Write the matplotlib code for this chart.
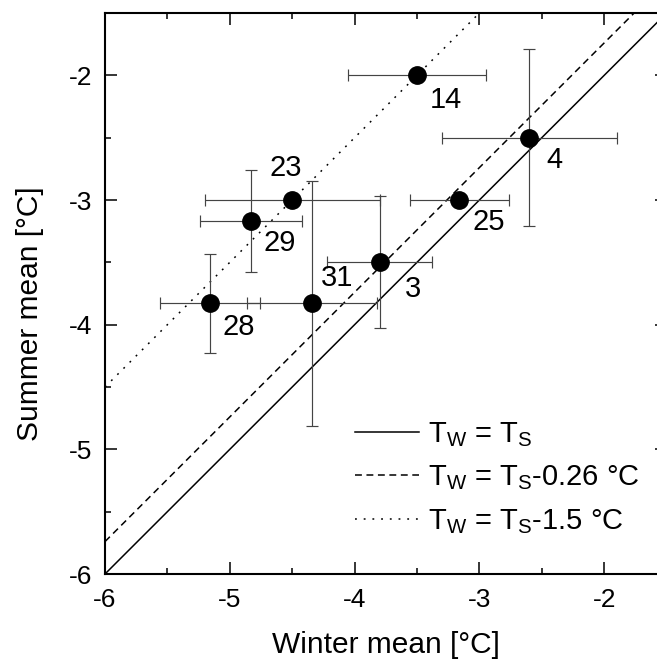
import matplotlib
matplotlib.use('Agg')
import matplotlib.pyplot as plt
import numpy as np

plt.rcParams['font.family'] = ['Liberation Sans', 'DejaVu Sans']
plt.rcParams['mathtext.fontset'] = 'custom'
plt.rcParams['mathtext.rm'] = 'Liberation Sans'
plt.rcParams['mathtext.it'] = 'Liberation Sans:italic'
plt.rcParams['axes.unicode_minus'] = False

# sites: winter mean, summer mean and their errors
sites = ['14', '4', '25', '23', '29', '3', '28', '31']
winter = [-3.50, -2.60, -3.16, -4.50, -4.83, -3.80, -5.16, -4.34]
summer = [-2.00, -2.50, -3.00, -3.00, -3.17, -3.50, -3.83, -3.83]
winter_err = [0.55, 0.70, 0.40, 0.70, 0.41, 0.42, 0.40, 0.52]
summer_err = [0.00, 0.71, 0.00, 0.00, 0.41, 0.53, 0.40, 0.98]
# label offsets (points)
label_dx = [21, 18, 21, -5, 21, 24, 21, 18]
label_dy = [-18, -16, -16, 23, -16, -19, -17, 18]

offsets = [0.0, 0.26, 1.5]
line_labels = [r'T$_\mathrm{W}$ = T$_\mathrm{S}$',
               r'T$_\mathrm{W}$ = T$_\mathrm{S}$-0.26 °C',
               r'T$_\mathrm{W}$ = T$_\mathrm{S}$-1.5 °C']
line_styles = ['-', (0, (4.5, 3)), (0, (1.2, 4.5))]

fig = plt.figure(figsize=(6.57, 6.59), dpi=100)
ax = fig.add_axes([105 / 657, 85 / 659, 561.6 / 657, 561 / 659])

xx = np.array([-6.0, -1.5])
for off, lab, ls in zip(offsets, line_labels, line_styles):
    ax.plot(xx, xx + off, color='black', linestyle=ls, linewidth=1.1, label=lab)

ax.errorbar(winter, summer, xerr=winter_err, yerr=summer_err, fmt='none',
            ecolor='#444444', elinewidth=0.85, capsize=4, capthick=0.85, zorder=3)
ax.plot(winter, summer, 'o', color='black', markersize=12.5, zorder=4)

for name, x, y, dx, dy in zip(sites, winter, summer, label_dx, label_dy):
    ax.annotate(name, (x, y), xytext=(dx, dy), textcoords='offset points',
                ha='center', va='center', fontsize=21)

ax.set_xlim(-6, -1.5)
ax.set_ylim(-6, -1.5)
ax.set_xticks([-6, -5, -4, -3, -2])
ax.set_yticks([-6, -5, -4, -3, -2])
ax.set_xticks(np.arange(-5.5, -1.5, 1.0), minor=True)
ax.set_yticks(np.arange(-5.5, -1.5, 1.0), minor=True)
ax.tick_params(which='both', direction='in', top=True, right=True, width=1.1)
ax.tick_params(which='major', length=8.6, labelsize=19)
ax.tick_params(which='minor', length=4.3)
ax.tick_params(axis='x', pad=10)
ax.tick_params(axis='y', pad=9)
for sp in ax.spines.values():
    sp.set_linewidth(1.5)

ax.set_xlabel('Winter mean [°C]', fontsize=21.5, labelpad=14)
ax.set_ylabel('Summer mean [°C]', fontsize=21.5)
ax.yaxis.set_label_coords(-0.109, 0.4635)

ax.legend(loc='upper left', bbox_to_anchor=(0.445, 0.275), frameon=False,
          fontsize=21, handlelength=2.2, handletextpad=0.3, labelspacing=0.52,
          borderpad=0, borderaxespad=0)

fig.savefig('out.png', dpi=100)
